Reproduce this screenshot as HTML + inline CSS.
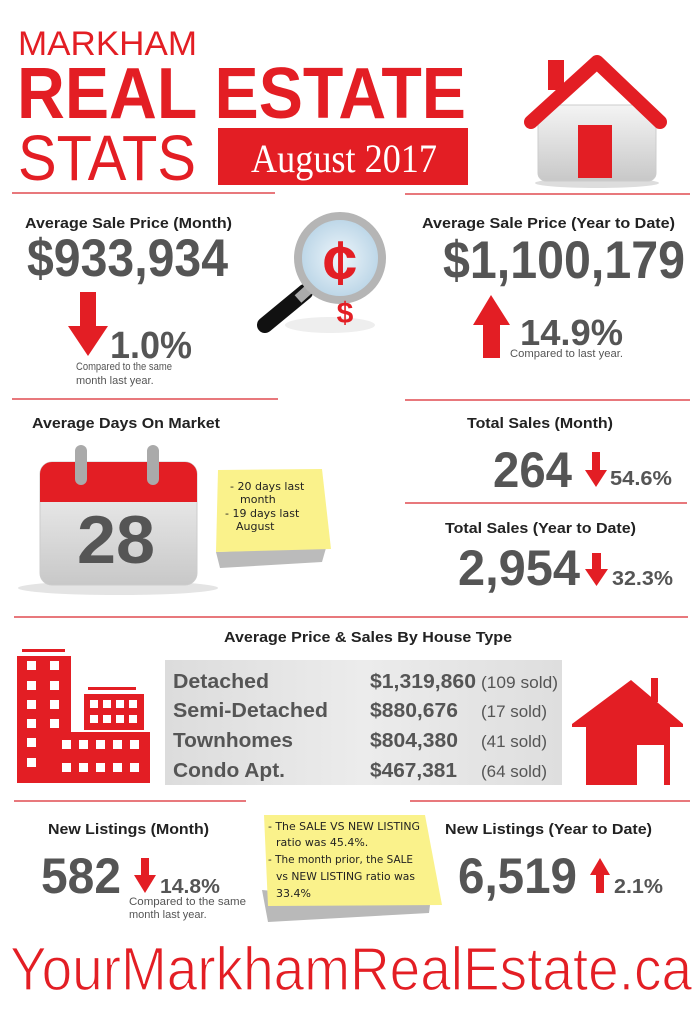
<!DOCTYPE html>
<html><head><meta charset="utf-8"><style>
html,body{margin:0;padding:0;background:#fff;}
svg{display:block;font-family:"Liberation Sans",Arial,sans-serif;}
.h{font-weight:bold;font-size:15px;fill:#222;}
.n{font-weight:bold;fill:#555;}
.s{font-size:11px;fill:#555;}
.note{font-family:"DejaVu Sans",sans-serif;font-size:11px;fill:#222;}
</style></head><body>
<svg width="700" height="1019" viewBox="0 0 700 1019" xmlns="http://www.w3.org/2000/svg">
<defs>
<linearGradient id="g1" x1="0" y1="0" x2="0" y2="1"><stop offset="0" stop-color="#f4f4f4"/><stop offset="1" stop-color="#c8c8c8"/></linearGradient>
<linearGradient id="g2" x1="0" y1="0" x2="1" y2="0"><stop offset="0" stop-color="#dcdcdc"/><stop offset="0.5" stop-color="#ececec"/><stop offset="1" stop-color="#dedede"/></linearGradient>
<radialGradient id="g3"><stop offset="0" stop-color="#eef6fb"/><stop offset="1" stop-color="#b9d4e6"/></radialGradient>
</defs>
<rect width="700" height="1019" fill="#fff"/>
<text x="18" y="55" font-size="34" fill="#e31e24" textLength="179" lengthAdjust="spacingAndGlyphs">MARKHAM</text>
<text x="17" y="118" font-size="72" font-weight="bold" fill="#e31e24" textLength="449" lengthAdjust="spacingAndGlyphs">REAL ESTATE</text>
<text x="18" y="180" font-size="64" fill="#e31e24" textLength="178" lengthAdjust="spacingAndGlyphs">STATS</text>
<rect x="218" y="128" width="250" height="57" fill="#e31e24"/>
<text x="251" y="172" font-family="Liberation Serif,serif" font-size="40" fill="#fff" textLength="186" lengthAdjust="spacingAndGlyphs">August 2017</text>
<ellipse cx="597" cy="183" rx="62" ry="5" fill="#ddd"/>
<rect x="538" y="105" width="118" height="76" rx="8" fill="url(#g1)" stroke="#ccc"/>
<rect x="548" y="60" width="16" height="30" fill="#e31e24"/>
<polyline points="531,122 597,62 660,122" fill="none" stroke="#e31e24" stroke-width="14" stroke-linejoin="round" stroke-linecap="round"/>
<rect x="578" y="125" width="34" height="53" fill="#e31e24"/>
<g stroke="#d9272e" stroke-width="1.3">
<line x1="12" y1="193" x2="275" y2="193"/><line x1="405" y1="194" x2="690" y2="194"/>
<line x1="12" y1="399" x2="278" y2="399"/><line x1="405" y1="400" x2="690" y2="400"/>
<line x1="405" y1="503" x2="687" y2="503"/>
<line x1="14" y1="617" x2="688" y2="617"/>
<line x1="14" y1="801" x2="246" y2="801"/><line x1="410" y1="801" x2="690" y2="801"/>
</g>
<text x="25" y="228" class="h" textLength="207" lengthAdjust="spacingAndGlyphs">Average Sale Price (Month)</text>
<text x="27" y="276" font-size="53" class="n" textLength="201" lengthAdjust="spacingAndGlyphs">$933,934</text>
<polygon points="80,292 96,292 96,326 108,326 88,356 68,326 80,326" fill="#e31e24"/>
<text x="110" y="358" font-size="38" class="n" textLength="82" lengthAdjust="spacingAndGlyphs">1.0%</text>
<text x="76" y="370" class="s" textLength="96" lengthAdjust="spacingAndGlyphs">Compared to the same</text>
<text x="76" y="384" class="s">month last year.</text>
<ellipse cx="330" cy="325" rx="45" ry="8" fill="#eee"/>
<line x1="305" y1="292" x2="265" y2="325" stroke="#111" stroke-width="16" stroke-linecap="round"/>
<line x1="308" y1="290" x2="298" y2="299" stroke="#aaa" stroke-width="10"/>
<circle cx="340" cy="258" r="42" fill="url(#g3)" stroke="#b5b5b5" stroke-width="8"/>
<text x="340" y="284" text-anchor="middle" font-size="62" font-weight="bold" fill="#e31e24">¢</text>
<text x="345" y="323" text-anchor="middle" font-size="30" font-weight="bold" fill="#e31e24">$</text>
<text x="422" y="228" class="h" textLength="253" lengthAdjust="spacingAndGlyphs">Average Sale Price (Year to Date)</text>
<text x="443" y="278" font-size="53" class="n" textLength="242" lengthAdjust="spacingAndGlyphs">$1,100,179</text>
<polygon points="491,295 510,325 500,325 500,358 483,358 483,325 473,325" fill="#e31e24"/>
<text x="520" y="345" font-size="36" class="n" textLength="103" lengthAdjust="spacingAndGlyphs">14.9%</text>
<text x="510" y="357" class="s" textLength="113" lengthAdjust="spacingAndGlyphs">Compared to last year.</text>
<text x="32" y="428" class="h" textLength="188" lengthAdjust="spacingAndGlyphs">Average Days On Market</text>
<ellipse cx="118" cy="588" rx="100" ry="7" fill="#e4e4e4"/>
<rect x="40" y="462" width="157" height="123" rx="12" fill="url(#g1)" stroke="#ccc"/>
<path d="M52,462 H185 a12,12 0 0 1 12,12 V502 H40 V474 a12,12 0 0 1 12,-12z" fill="#e31e24"/>
<rect x="75" y="445" width="12" height="40" rx="6" fill="#aaa"/>
<rect x="147" y="445" width="12" height="40" rx="6" fill="#aaa"/>
<text x="77" y="563" font-size="68" class="n" fill="#444" textLength="78" lengthAdjust="spacingAndGlyphs">28</text>
<polygon points="216,552 326,548 322,562 220,568" fill="#bbb"/>
<polygon points="218,470 322,469 331,549 216,552" fill="#faf28b"/>
<text x="230" y="490" class="note">- 20 days last</text>
<text x="240" y="503" class="note">month</text>
<text x="225" y="517" class="note">- 19 days last</text>
<text x="236" y="530" class="note">August</text>
<text x="467" y="428" class="h" textLength="146" lengthAdjust="spacingAndGlyphs">Total Sales (Month)</text>
<text x="493" y="487" font-size="50" class="n" textLength="79" lengthAdjust="spacingAndGlyphs">264</text>
<polygon points="592,452 600,452 600,470 607,470 596,487 585,470 592,470" fill="#e31e24"/>
<text x="610" y="485" font-size="20" class="n" textLength="62" lengthAdjust="spacingAndGlyphs">54.6%</text>
<text x="445" y="533" class="h" textLength="191" lengthAdjust="spacingAndGlyphs">Total Sales (Year to Date)</text>
<text x="458" y="585" font-size="50" class="n" textLength="122" lengthAdjust="spacingAndGlyphs">2,954</text>
<polygon points="592,553 601,553 601,569 608,569 596.5,586 585,569 592,569" fill="#e31e24"/>
<text x="612" y="585" font-size="20" class="n" textLength="61" lengthAdjust="spacingAndGlyphs">32.3%</text>
<text x="224" y="642" class="h" textLength="288" lengthAdjust="spacingAndGlyphs">Average Price &amp; Sales By House Type</text>
<g fill="#e31e24">
<rect x="22" y="649" width="43" height="3"/>
<rect x="17" y="656" width="54" height="127"/>
<rect x="88" y="687" width="48" height="3"/>
<rect x="84" y="694" width="60" height="36"/>
<rect x="55" y="732" width="95" height="51"/>
</g>
<g fill="#fff">
<rect x="27" y="661" width="9" height="9"/><rect x="50" y="661" width="9" height="9"/>
<rect x="27" y="681" width="9" height="9"/><rect x="50" y="681" width="9" height="9"/>
<rect x="27" y="700" width="9" height="9"/><rect x="50" y="700" width="9" height="9"/>
<rect x="27" y="719" width="9" height="9"/><rect x="50" y="719" width="9" height="9"/>
<rect x="27" y="738" width="9" height="9"/>
<rect x="27" y="758" width="9" height="9"/>
<rect x="90" y="700" width="8" height="8"/><rect x="103" y="700" width="8" height="8"/><rect x="116" y="700" width="8" height="8"/><rect x="129" y="700" width="8" height="8"/>
<rect x="90" y="715" width="8" height="8"/><rect x="103" y="715" width="8" height="8"/><rect x="116" y="715" width="8" height="8"/><rect x="129" y="715" width="8" height="8"/>
<rect x="62" y="740" width="9" height="9"/><rect x="79" y="740" width="9" height="9"/><rect x="96" y="740" width="9" height="9"/><rect x="113" y="740" width="9" height="9"/><rect x="130" y="740" width="9" height="9"/>
<rect x="62" y="763" width="9" height="9"/><rect x="79" y="763" width="9" height="9"/><rect x="96" y="763" width="9" height="9"/><rect x="113" y="763" width="9" height="9"/><rect x="130" y="763" width="9" height="9"/>
</g>
<rect x="165" y="660" width="397" height="125" fill="url(#g2)"/>
<g font-size="20">
<text x="173" y="688" class="n" textLength="96" lengthAdjust="spacingAndGlyphs">Detached</text>
<text x="173" y="717" class="n" textLength="155" lengthAdjust="spacingAndGlyphs">Semi-Detached</text>
<text x="173" y="747" class="n" textLength="120" lengthAdjust="spacingAndGlyphs">Townhomes</text>
<text x="173" y="777" class="n" textLength="112" lengthAdjust="spacingAndGlyphs">Condo Apt.</text>
<text x="370" y="688" class="n" textLength="106" lengthAdjust="spacingAndGlyphs">$1,319,860</text>
<text x="370" y="717" class="n" textLength="88" lengthAdjust="spacingAndGlyphs">$880,676</text>
<text x="370" y="747" class="n" textLength="88" lengthAdjust="spacingAndGlyphs">$804,380</text>
<text x="370" y="777" class="n" textLength="87" lengthAdjust="spacingAndGlyphs">$467,381</text>
</g>
<g font-size="17" fill="#555">
<text x="481" y="688" textLength="77" lengthAdjust="spacingAndGlyphs">(109 sold)</text>
<text x="481" y="717" textLength="66" lengthAdjust="spacingAndGlyphs">(17 sold)</text>
<text x="481" y="747" textLength="66" lengthAdjust="spacingAndGlyphs">(41 sold)</text>
<text x="481" y="777" textLength="66" lengthAdjust="spacingAndGlyphs">(64 sold)</text>
</g>
<rect x="651" y="678" width="7" height="24" fill="#e31e24"/>
<polygon points="631,680 683,724 683,727 572,727 572,724" fill="#e31e24"/>
<rect x="586" y="727" width="84" height="58" fill="#e31e24"/>
<rect x="637" y="745" width="27" height="40" fill="#fff"/>
<text x="48" y="834" class="h" textLength="161" lengthAdjust="spacingAndGlyphs">New Listings (Month)</text>
<text x="41" y="893" font-size="50" class="n" textLength="80" lengthAdjust="spacingAndGlyphs">582</text>
<polygon points="141,858 149,858 149,875 156,875 145,893 134,875 141,875" fill="#e31e24"/>
<text x="160" y="893" font-size="20" class="n" textLength="60" lengthAdjust="spacingAndGlyphs">14.8%</text>
<text x="129" y="905" class="s" textLength="117" lengthAdjust="spacingAndGlyphs">Compared to the same</text>
<text x="129" y="918" class="s">month last year.</text>
<polygon points="262,890 430,905 429,913 268,922" fill="#b9b9b9"/>
<polygon points="264,815 425,815 442,905 268,906" fill="#faf28b"/>
<text x="268" y="830" class="note" textLength="152" lengthAdjust="spacingAndGlyphs">- The SALE VS NEW LISTING</text>
<text x="276" y="846" class="note">ratio was 45.4%.</text>
<text x="268" y="863" class="note" textLength="145" lengthAdjust="spacingAndGlyphs">- The month prior, the SALE</text>
<text x="276" y="880" class="note" textLength="139" lengthAdjust="spacingAndGlyphs">vs NEW LISTING ratio was</text>
<text x="276" y="897" class="note">33.4%</text>
<text x="445" y="834" class="h" textLength="207" lengthAdjust="spacingAndGlyphs">New Listings (Year to Date)</text>
<text x="458" y="893" font-size="50" class="n" textLength="119" lengthAdjust="spacingAndGlyphs">6,519</text>
<polygon points="600,858 610,875 604,875 604,893 596,893 596,875 590,875" fill="#e31e24"/>
<text x="614" y="893" font-size="20" class="n" textLength="49" lengthAdjust="spacingAndGlyphs">2.1%</text>
<text x="10" y="990" font-size="61" fill="#e31e24" stroke="#fff" stroke-width="1.3" textLength="682" lengthAdjust="spacingAndGlyphs">YourMarkhamRealEstate.ca</text>
</svg>
</body></html>
